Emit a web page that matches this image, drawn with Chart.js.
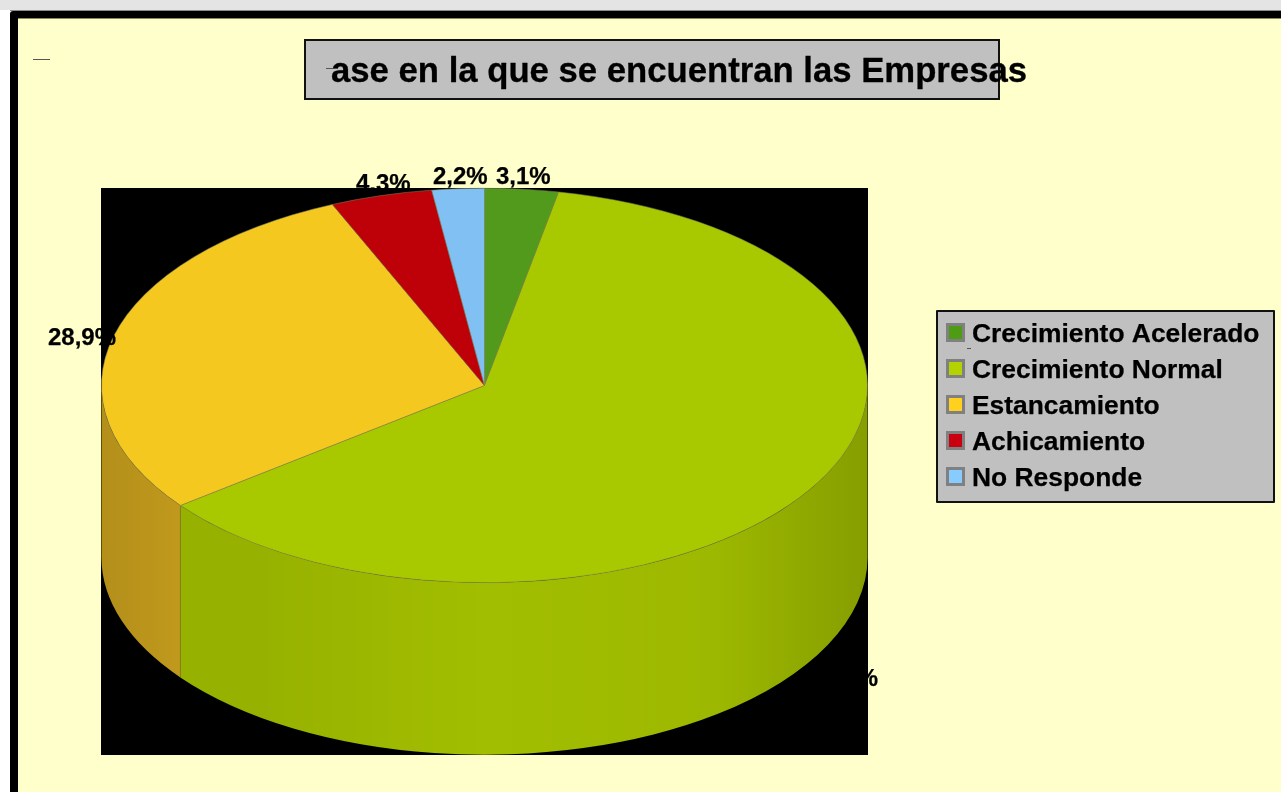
<!DOCTYPE html>
<html>
<head>
<meta charset="utf-8">
<style>html,body{margin:0;padding:0;background:#fff;overflow:hidden}canvas{display:block}</style>
<script src="https://cdn.jsdelivr.net/npm/chart.js@4"></script>
</head>
<body>
<canvas id="c" width="1281" height="792"></canvas>
<script>
const categories = ['Crecimiento Acelerado', 'Crecimiento Normal', 'Estancamiento', 'Achicamiento', 'No Responde'];
const values = [3.1, 61.5, 28.9, 4.3, 2.2];
const valueLabels = ['3,1%', '61,5%', '28,9%', '4,3%', '2,2%'];
const topColors = ['#529A1C', '#A8C800', '#F4C81E', '#BE0008', '#80C0F2'];
const sideColors = ['#46840F', '#A2BE00', '#CEA41E', '#A00006', '#6CA4D0'];
const legendColors = ['#4E9C14', '#B4D200', '#FFD01E', '#C80010', '#88CCFF'];
const titleText = 'ase en la que se encuentran las Empresas';

const labelAnchors = [[496, 184], [810, 686], [48, 345], [356, 191], [433, 184]];
const tilt = 197.5 / 383.5;
const depth = 172;
const font = 'Liberation Sans, Arial, sans-serif';

function heavyText(c, t, x, y, w) {
  c.lineWidth = w; c.strokeStyle = '#000'; c.lineJoin = 'round';
  c.strokeText(t, x, y);
  c.fillText(t, x, y);
}

const pie3d = {
  id: 'pie3d',
  beforeDraw(chart) {
    const c = chart.ctx;
    c.save();
    c.fillStyle = '#FFFFFF'; c.fillRect(0, 0, 1281, 792);
    c.fillStyle = '#E4E4E4'; c.fillRect(0, 0, 1281, 10);
    c.fillStyle = '#8A8A8A'; c.fillRect(10, 10, 1271, 1);
    c.fillStyle = '#000000'; c.beginPath(); c.roundRect(10, 11, 1271, 781, [3, 0, 0, 0]); c.fill();
    c.fillStyle = '#FFFFCC'; c.fillRect(18, 18, 1263, 774);
    c.fillStyle = '#8A8A5A'; c.fillRect(18, 18, 1263, 1);
    // plot backdrop
    c.fillStyle = '#000000'; c.fillRect(101, 188, 767, 567);
    c.restore();
  },
  beforeDatasetsDraw(chart) {
    const c = chart.ctx;
    const arcs = chart.getDatasetMeta(0).data;
    c.save();
    arcs.forEach((a, i) => {
      const p = a.getProps(['x', 'y', 'startAngle', 'endAngle', 'outerRadius'], true);
      const ry = p.outerRadius * tilt;
      const TAU = Math.PI * 2;
      [0, TAU, -TAU].forEach(shift => {
        const s = Math.max(p.startAngle + shift, 0);
        const e = Math.min(p.endAngle + shift, Math.PI);
        if (e <= s) return;
        c.beginPath();
        c.ellipse(p.x, p.y, p.outerRadius, ry, 0, s, e, false);
        c.ellipse(p.x, p.y + depth, p.outerRadius, ry, 0, e, s, true);
        c.closePath();
        c.fillStyle = sideColors[i];
        c.fill();
        const g = c.createLinearGradient(p.x - p.outerRadius, 0, p.x + p.outerRadius, 0);
        g.addColorStop(0, 'rgba(0,0,0,0.13)');
        g.addColorStop(0.1, 'rgba(0,0,0,0.07)');
        g.addColorStop(0.2, 'rgba(0,0,0,0.07)');
        g.addColorStop(0.5, 'rgba(0,0,0,0.0)');
        g.addColorStop(0.8, 'rgba(0,0,0,0.03)');
        g.addColorStop(1, 'rgba(0,0,0,0.17)');
        c.fillStyle = g;
        c.fill();
        // seam between wall sections
        c.strokeStyle = 'rgba(130,130,60,0.55)';
        c.lineWidth = 1;
        if (s > 0) {
          const x = p.x + p.outerRadius * Math.cos(s), y = p.y + ry * Math.sin(s);
          c.beginPath(); c.moveTo(x, y); c.lineTo(x, y + depth); c.stroke();
        }
      });
    });
    c.restore();
    const cy = arcs[0].y;
    c.save();
    c.transform(1, 0, 0, tilt, 0, cy * (1 - tilt));
  },
  afterDatasetsDraw(chart) {
    const c = chart.ctx;
    c.restore();
    c.save();
    // title box
    c.fillStyle = '#C0C0C0'; c.fillRect(305, 40, 694, 59);
    c.strokeStyle = '#111'; c.lineWidth = 2; c.strokeRect(305, 40, 694, 59);
    c.fillStyle = '#000';
    c.textBaseline = 'alphabetic'; c.textAlign = 'left';
    c.font = 'bold 34.7px ' + font;
    heavyText(c, titleText, 331, 82, 0.3);
    // small stray rules
    c.fillStyle = '#555';
    c.fillRect(33, 59, 17, 1);
    c.fillRect(326, 68, 7, 1);
    // value labels
    c.fillStyle = '#000';
    c.font = 'bold 24px ' + font;
    valueLabels.forEach((t, i) => heavyText(c, t, labelAnchors[i][0], labelAnchors[i][1], 0.25));
    // legend
    c.fillStyle = '#C0C0C0'; c.fillRect(937, 311, 337, 191);
    c.strokeStyle = '#111'; c.lineWidth = 2; c.strokeRect(937, 311, 337, 191);
    c.font = 'bold 26.4px ' + font;
    categories.forEach((t, i) => {
      const y = 323 + i * 36;
      c.fillStyle = '#808080'; c.fillRect(946, y, 19, 19);
      c.fillStyle = legendColors[i]; c.fillRect(949, y + 3, 13, 13);
      c.fillStyle = '#000'; heavyText(c, t, 972, y + 19, 0.25);
    });
    c.fillStyle = '#555'; c.fillRect(967, 348, 4, 1);
    c.restore();
  }
};

new Chart(document.getElementById('c'), {
  type: 'pie',
  data: {
    labels: categories,
    datasets: [{
      data: values,
      backgroundColor: topColors,
      borderColor: 'rgba(130,130,90,0.7)',
      borderWidth: 1
    }]
  },
  options: {
    responsive: false,
    animation: false,
    layout: { padding: { left: 101, right: 413, top: 2, bottom: 23 } },
    plugins: { legend: { display: false }, tooltip: { enabled: false }, title: { display: false } }
  },
  plugins: [pie3d]
});
</script>
</body>
</html>
